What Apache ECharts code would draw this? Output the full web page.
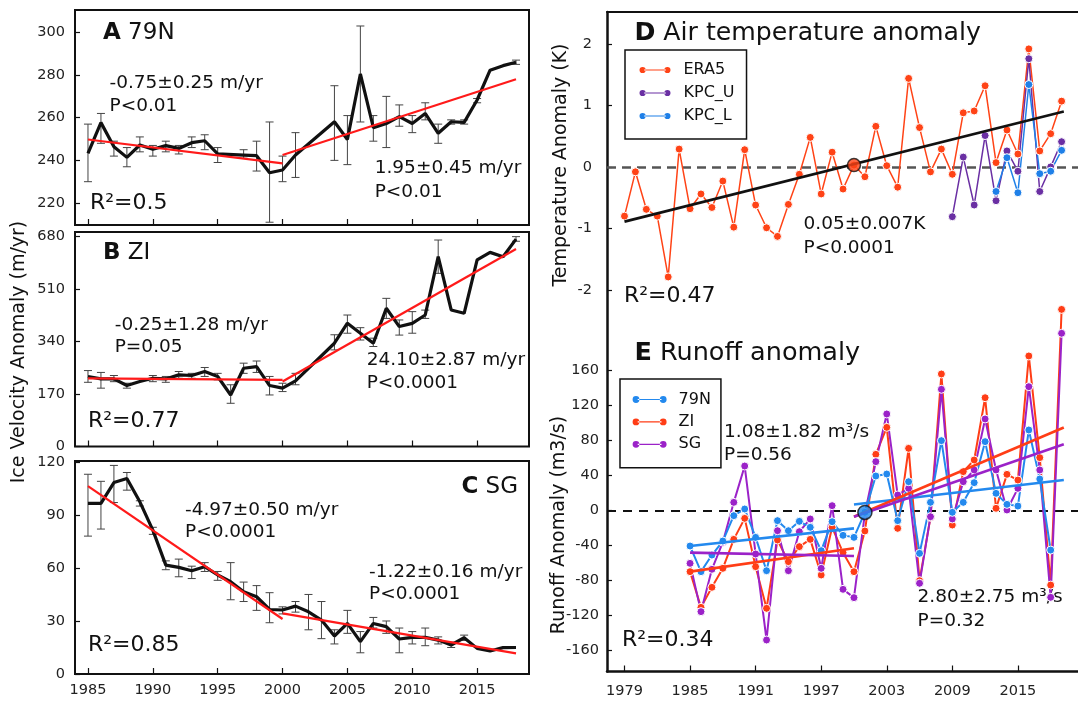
<!DOCTYPE html>
<html>
<head>
<meta charset="utf-8">
<script src="https://cdn.jsdelivr.net/npm/echarts@6/dist/echarts.min.js"></script>
<style>
  html, body { margin: 0; background: #fff; }
  #chart { width: 1078px; height: 705px; }
</style>
</head>
<body>
<div id="chart"></div>
<script>
// ---- ice velocity anomaly (m/yr), panels A-C; null = no value that year
const velYears = [1985, 1986, 1987, 1988, 1989, 1990, 1991, 1992, 1993, 1994, 1995, 1996, 1997, 1998, 1999, 2000, 2001,
  2002, 2003, 2004, 2005, 2006, 2007, 2008, 2009, 2010, 2011, 2012, 2013, 2014, 2015, 2016, 2017, 2018];

const vel79N = [243.3, 257.7, 246.4, 241.4, 247.2, 245.2, 246.9, 245.6, 248.3, 249.2, 243, null, 242.5, 242.2, 234.2, 235.5, 242.5,
  null, null, 258.1, 249.8, 280.5, 255.3, 257.3, 260.5, 257.3, 262, 252.7, 258.1, 257.8, 268.3, 282.3, 284.4, 286];
const vel79NLow = [230, 248, 242, 237, 244, 242, 244, 243, 246, 245, 239, null, 241, 235, 211, 230, 232,
  null, null, 240, 238, 258, 249, 246, 256, 253, 259, 248, 257, 257, 267, null, null, 285];
const vel79NHigh = [257, 262, 249, 246, 251, 247, 249, 247, 251, 252, 246, null, 245, 249, 258, 242, 253,
  null, null, 275, 261, 303, 261, 270, 266, 261, 267, 257, 259, 259, 269, null, null, 287];

const velZI = [226.7, 219, 219, 197.5, 210.5, 221, 219, 232, 230, 243, 226.7, 167, 253.6, 259, 197.5, 189, 212.6,
  null, null, 334.6, 399.4, 367, 334.6, 448, 388.6, 399, 426, 615, 442.5, 431.7, 604.4, 629, 615, 672];
const velZILow = [208, 189, 210, 189, null, 210, 208, 221, 221, 227, 216, 140, 237, 240, 167, 178, 200,
  null, null, 313, 367, 345, 324, 415, 361, 367, 415, 561, null, null, null, null, null, 665];
const velZIHigh = [246, 240, 230, 205, null, 230, 227, 243, 237, 256, 237, 200, 270, 277, 227, 205, 237,
  null, null, 362, 426, 385, 351, 480, 410, 437, 442, 669, null, null, null, null, null, 680];

const velSG = [96.5, 96.5, 108.3, 110.6, 97.4, 81.4, 61.6, 60.3, 58.4, 60.7, 56, 52.2, 46.5, 43.7, 36.5, 36.2, 38.4,
  35.2, 30.5, 21.5, 28.6, 18.3, 28.6, 26.8, 19.8, 20.7, 20.7, 19.2, 16.4, 20.5, 14.5, 13, 14.9, 15];
const velSGLow = [78, 82, 97, 104, 95, 79, 59, 55, 54, 58, 53, 42, 41, 36, 29, 34, 35,
  25, 20, 17, 23, 12, 26, 23, 12, 17, 16, 17, 15, 19, null, null, null, null];
const velSGHigh = [113, 109, 118, 114, 98, 83, 64, 65, 61, 63, 58, 63, 52, 50, 46, 38, 41,
  45, 41, 25, 36, 24, 32, 30, 26, 24, 26, 21, 18, 22, null, null, null, null];

// piecewise linear fits (red lines)
const fit79N = [[[1985, 249.8], [2000, 238.6]], [[2000, 242.5], [2018, 278]]];
const fitZI = [[[1985, 221], [2000, 216]], [[2000, 210.5], [2018, 640]]];
const fitSG = [[[1985, 106.3], [2000, 31.1]], [[2000, 34.3], [2018, 11.7]]];

// ---- air temperature anomaly (K), panel D
const tempYears = [1979, 1980, 1981, 1982, 1983, 1984, 1985, 1986, 1987, 1988, 1989, 1990, 1991, 1992, 1993, 1994,
  1995, 1996, 1997, 1998, 1999, 2000, 2001, 2002, 2003, 2004, 2005, 2006, 2007, 2008, 2009, 2010, 2011, 2012,
  2013, 2014, 2015, 2016, 2017, 2018, 2019];
const era5 = [-0.80, -0.08, -0.69, -0.80, -1.79, 0.29, -0.68, -0.44, -0.66, -0.23, -0.98, 0.28, -0.62, -0.99, -1.13, -0.61,
  -0.12, 0.48, -0.44, 0.24, -0.36, 0.03, -0.16, 0.66, 0.02, -0.33, 1.44, 0.64, -0.08, 0.29, -0.12, 0.88, 0.91, 1.32,
  0.07, 0.60, 0.21, 1.92, 0.26, 0.54, 1.07];
const kpcUYears = [2009, 2010, 2011, 2012, 2013, 2014, 2015, 2016, 2017, 2018, 2019];
const kpcU = [-0.81, 0.16, -0.62, 0.51, -0.55, 0.26, -0.07, 1.76, -0.40, 0.0, 0.41];
const kpcLYears = [2013, 2014, 2015, 2016, 2017, 2018, 2019];
const kpcL = [-0.40, 0.15, -0.42, 1.34, -0.11, -0.07, 0.27];
const tempTrend = [[1979, -0.89], [2019.2, 0.90]];
const tempBreak = [2000, 0.03];

// ---- runoff anomaly (m3/s), panel E
const runYears = [1985, 1986, 1987, 1988, 1989, 1990, 1991, 1992, 1993, 1994, 1995, 1996, 1997, 1998, 1999, 2000,
  2001, 2002, 2003, 2004, 2005, 2006, 2007, 2008, 2009, 2010, 2011, 2012, 2013, 2014, 2015, 2016, 2017, 2018, 2019];
const run79N = [-40.4, -69.7, -50.7, -34.7, -5.7, 1.9, -30.5, -68.6, -11.4, -22.9, -12.2, -19, -45.7, -12.6, -28.2, -30.5,
  -1.9, 39.6, 41.9, -11.4, 33.1, -48.8, 9.5, 80, -1.9, 9.5, 32, 78.9, 19.8, 7.2, 5.3, 92.2, 36.2, -45, null];
const runZI = [-69.7, -110.5, -87.6, -65.9, -32.8, -8.8, -64, -111.6, -33.5, -58.3, -41.1, -32.8, -73.5, -19, -48, -69.7,
  -23.2, 64.4, 95.2, -20.2, 71.2, -80, -7.6, 156.2, -16.4, 44.6, 57.9, 129.1, 2.7, 41.5, 35, 176.8, 60.6, -85, 230];
const runSG = [-60.2, -115.4, -67, -36, 9.5, 51, -49.5, -147.8, -22.9, -68.6, -24, -9.5, -65.9, 5.7, -89.9, -99.4,
  -3, 56, 110.5, 17.9, 25.5, -83, -6.9, 138.7, -9.5, 33.1, 46.5, 104.8, 46.5, 0.8, 25.5, 141.7, 46.5, -99, 202.7];
const run79NFit = [[[1985, -40.4], [2000, -20.2]], [[2000, 7], [2019.2, 35]]];
const runZIFit = [[[1985, -69.7], [2000, -43]], [[2000, -7], [2019.2, 95]]];
const runSGFit = [[[1985, -48], [2000, -51.8]], [[2000, -7], [2019.2, 76]]];
const runBreak = [2001, -2];

// ---- tick labels
const leftYearTicks = [1985, 1990, 1995, 2000, 2005, 2010, 2015];
const rightYearTicks = [1979, 1985, 1991, 1997, 2003, 2009, 2015];
const ticksA = [220, 240, 260, 280, 300];
const ticksB = [0, 170, 340, 510, 680];
const ticksC = [0, 30, 60, 90, 120];
const ticksD = [-2, -1, 0, 1, 2];
const ticksE = [-160, -120, -80, -40, 0, 40, 80, 120, 160];

const FONT = 'DejaVu Sans';
const C_ERA = '#ff4316', C_KU = '#6a2fa3', C_KL = '#1f80e8';
const C_79 = '#2389ee', C_ZI = '#ff3d16', C_SG = '#9b22c8';
const plain = v => String(v);

function pairs(years, vals) {
  return years.map((y, i) => [y, vals[i]]);
}
function errData(low, high) {
  return velYears.map((y, i) => (low[i] == null ? null : [y, low[i], high[i]])).filter(d => d);
}

function leftX(i, showLabel) {
  return {
    type: 'value', gridIndex: i, min: 1984, max: 2019,
    axisLine: { show: false, onZero: false },
    axisTick: { show: true, inside: true, length: 6, customValues: leftYearTicks, lineStyle: { color: '#111', width: 1.2 } },
    axisLabel: { show: showLabel, customValues: leftYearTicks, formatter: plain, fontFamily: FONT, fontSize: 14.5, color: '#222', margin: 9 },
    splitLine: { show: false }
  };
}
function leftY(i, min, max, ticks) {
  return {
    type: 'value', gridIndex: i, min: min, max: max,
    axisLine: { show: false, onZero: false },
    axisTick: { show: true, inside: true, length: 5, customValues: ticks, lineStyle: { color: '#111', width: 1.2 } },
    axisLabel: { customValues: ticks, formatter: plain, fontFamily: FONT, fontSize: 14.5, color: '#222', margin: 10 },
    splitLine: { show: false }
  };
}

function errSeries(i, low, high) {
  return {
    type: 'custom', xAxisIndex: i, yAxisIndex: i,
    data: errData(low, high),
    encode: { x: 0, y: [1, 2] },
    renderItem: function (params, api) {
      const top = api.coord([api.value(0), api.value(2)]);
      const bot = api.coord([api.value(0), api.value(1)]);
      const w = 4;
      const st = { stroke: '#444', lineWidth: 1 };
      return {
        type: 'group',
        children: [
          { type: 'line', shape: { x1: top[0], y1: top[1], x2: bot[0], y2: bot[1] }, style: st },
          { type: 'line', shape: { x1: top[0] - w, y1: top[1], x2: top[0] + w, y2: top[1] }, style: st },
          { type: 'line', shape: { x1: bot[0] - w, y1: bot[1], x2: bot[0] + w, y2: bot[1] }, style: st }
        ]
      };
    }
  };
}
function velLine(i, vals) {
  return {
    type: 'line', xAxisIndex: i, yAxisIndex: i, data: pairs(velYears, vals),
    connectNulls: true, showSymbol: false, lineStyle: { color: '#111', width: 3.2 }, z: 3
  };
}
function fitLines(i, fit, color, width) {
  return fit.map(seg => ({
    type: 'line', xAxisIndex: i, yAxisIndex: i, data: seg, showSymbol: false,
    lineStyle: { color: color, width: width }, z: 4
  }));
}
function dotLine(name, i, years, vals, color, width) {
  return {
    name: name, type: 'line', xAxisIndex: i, yAxisIndex: i, data: pairs(years, vals),
    symbol: 'circle', symbolSize: 8, showSymbol: true,
    itemStyle: { color: color, borderColor: '#fff', borderWidth: 1 },
    lineStyle: { color: color, width: width }
  };
}

function txt(text, x, y, size, extra) {
  return Object.assign({
    type: 'text', x: x, y: y, silent: true,
    style: {
      text: text, fontFamily: FONT, fontSize: size, fill: '#111',
      textVerticalAlign: 'middle', verticalAlign: 'middle', textAlign: 'left', align: 'left'
    }
  }, extra || {});
}
function title(letter, rest, x, y, size, align) {
  return {
    type: 'text', x: x, y: y, silent: true,
    style: {
      text: '{b|' + letter + '}{n| ' + rest + '}',
      fill: '#111', textVerticalAlign: 'middle', verticalAlign: 'middle',
      textAlign: align || 'left', align: align || 'left',
      rich: {
        b: { fontFamily: FONT, fontSize: size, fontWeight: 'bold', fill: '#111' },
        n: { fontFamily: FONT, fontSize: size, fill: '#111' }
      }
    }
  };
}
function vtxt(text, x, y, size) {
  return {
    type: 'text', x: x, y: y, rotation: Math.PI / 2, silent: true,
    style: {
      text: text, fontFamily: FONT, fontSize: size, fill: '#111',
      textAlign: 'center', align: 'center', textVerticalAlign: 'middle', verticalAlign: 'middle'
    }
  };
}

const legendIcon = 'path://M0,4a4,4 0 1,0 8,0a4,4 0 1,0 -8,0zM32,4a4,4 0 1,0 8,0a4,4 0 1,0 -8,0zM6,3.3h28v1.4h-28z';

const option = {
  animation: false,
  backgroundColor: '#fff',
  grid: [
    { left: 75, top: 10, width: 454, height: 215, show: true, borderColor: '#111', borderWidth: 2 },
    { left: 75, top: 232, width: 454, height: 214.5, show: true, borderColor: '#111', borderWidth: 2 },
    { left: 75, top: 461, width: 454, height: 213, show: true, borderColor: '#111', borderWidth: 2 },
    { left: 607, top: 12, width: 486, height: 659.5 },
    { left: 607, top: 12, width: 486, height: 659.5 }
  ],
  xAxis: [
    leftX(0, false),
    leftX(1, false),
    leftX(2, true),
    {
      type: 'value', gridIndex: 3, min: 1977.4, max: 2020.5, position: 'top',
      axisLine: { show: true, onZero: false, lineStyle: { color: '#111', width: 2 } },
      axisTick: { show: false }, axisLabel: { show: false }, splitLine: { show: false }
    },
    {
      type: 'value', gridIndex: 4, min: 1977.4, max: 2020.5, position: 'bottom',
      axisLine: { show: true, onZero: false, lineStyle: { color: '#111', width: 2.5 } },
      axisTick: { show: true, inside: true, length: 6, customValues: rightYearTicks, lineStyle: { color: '#111', width: 1.2 } },
      axisLabel: { customValues: rightYearTicks, formatter: plain, fontFamily: FONT, fontSize: 14.5, color: '#222', margin: 12 },
      splitLine: { show: false }
    }
  ],
  yAxis: [
    leftY(0, 209.7, 310.5, ticksA),
    leftY(1, 0, 695, ticksB),
    leftY(2, 0, 120.5, ticksC),
    {
      type: 'value', gridIndex: 3, min: -8.208, max: 2.52,
      axisLine: { show: true, onZero: false, lineStyle: { color: '#111', width: 2.5 } },
      axisTick: { show: true, inside: true, length: 5, customValues: ticksD, lineStyle: { color: '#111', width: 1.2 } },
      axisLabel: { customValues: ticksD, formatter: plain, fontFamily: FONT, fontSize: 14.5, color: '#222', margin: 15 },
      splitLine: { show: false }
    },
    {
      type: 'value', gridIndex: 4, min: -183.8, max: 569.9,
      axisLine: { show: false, onZero: false },
      axisTick: { show: true, inside: true, length: 5, customValues: ticksE, lineStyle: { color: '#111', width: 1.2 } },
      axisLabel: { customValues: ticksE, formatter: plain, fontFamily: FONT, fontSize: 14.5, color: '#222', margin: 8 },
      splitLine: { show: false }
    }
  ],
  legend: [
    {
      data: ['ERA5', 'KPC_U', 'KPC_L'], orient: 'vertical', left: 625, top: 50,
      padding: [11.5, 12, 14.5, 14.5], itemGap: 6, itemWidth: 31, itemHeight: 8,
      icon: legendIcon, selectedMode: false,
      borderColor: '#111', borderWidth: 1.5, borderRadius: 0,
      itemStyle: { borderWidth: 0 },
      textStyle: { fontFamily: FONT, fontSize: 16, color: '#111', lineHeight: 17, padding: [0, 0, 0, 8] }
    },
    {
      data: ['79N', 'ZI', 'SG'], orient: 'vertical', left: 620, top: 379,
      padding: [12, 10, 15, 12.6], itemGap: 5.4, itemWidth: 34, itemHeight: 8,
      icon: legendIcon, selectedMode: false,
      borderColor: '#111', borderWidth: 1.5, borderRadius: 0,
      itemStyle: { borderWidth: 0 },
      textStyle: { fontFamily: FONT, fontSize: 16, color: '#111', lineHeight: 17, padding: [0, 0, 0, 7] }
    }
  ],
  series: [
    // panel A
    errSeries(0, vel79NLow, vel79NHigh),
    velLine(0, vel79N),
    ...fitLines(0, fit79N, '#ff1a1a', 2.2),
    // panel B
    errSeries(1, velZILow, velZIHigh),
    velLine(1, velZI),
    ...fitLines(1, fitZI, '#ff1a1a', 2.2),
    // panel C
    errSeries(2, velSGLow, velSGHigh),
    velLine(2, velSG),
    ...fitLines(2, fitSG, '#ff1a1a', 2.2),
    // panel D
    dotLine('ERA5', 3, tempYears, era5, C_ERA, 1.5),
    dotLine('KPC_U', 3, kpcUYears, kpcU, C_KU, 1.5),
    dotLine('KPC_L', 3, kpcLYears, kpcL, C_KL, 1.5),
    {
      type: 'line', xAxisIndex: 3, yAxisIndex: 3, data: tempTrend, showSymbol: false,
      lineStyle: { color: '#111', width: 2.6 }, z: 4,
      markLine: {
        silent: true, symbol: 'none', label: { show: false }, z: 1,
        lineStyle: { color: '#555', width: 2.5, type: [9, 6] },
        data: [{ yAxis: 0 }]
      }
    },
    {
      type: 'scatter', xAxisIndex: 3, yAxisIndex: 3, data: [tempBreak], symbolSize: 13, z: 5,
      itemStyle: { color: C_ERA, borderColor: '#111', borderWidth: 1.5 }
    },
    // panel E
    dotLine('ZI', 4, runYears, runZI, C_ZI, 2),
    dotLine('SG', 4, runYears, runSG, C_SG, 2),
    dotLine('79N', 4, runYears, run79N, C_79, 2),
    ...fitLines(4, run79NFit, C_79, 2.6),
    ...fitLines(4, runZIFit, C_ZI, 2.6),
    ...fitLines(4, runSGFit, C_SG, 2.6),
    {
      type: 'scatter', xAxisIndex: 4, yAxisIndex: 4, data: [runBreak], symbolSize: 14, z: 5,
      itemStyle: { color: C_79, borderColor: '#111', borderWidth: 1.5 },
      markLine: {
        silent: true, symbol: 'none', label: { show: false }, z: 1,
        lineStyle: { color: '#111', width: 2, type: [9, 7] },
        data: [{ yAxis: 0 }]
      }
    }
  ],
  graphic: [
    // panel A
    title('A', '79N', 103, 33.3, 23),
    txt('-0.75±0.25 m/yr', 109.5, 83.3, 18.5),
    txt('P<0.01', 109.5, 106, 18.5),
    txt('1.95±0.45 m/yr', 374.7, 168.3, 18.5),
    txt('P<0.01', 374.7, 191.7, 18.5),
    txt('R²=0.5', 90, 203.3, 22),
    // panel B
    title('B', 'ZI', 103, 253.3, 23),
    txt('-0.25±1.28 m/yr', 114.7, 325, 18.5),
    txt('P=0.05', 114.7, 346.7, 18.5),
    txt('24.10±2.87 m/yr', 366.7, 360, 18.5),
    txt('P<0.0001', 366.7, 383.3, 18.5),
    txt('R²=0.77', 88, 421.7, 22),
    // panel C
    title('C', 'SG', 518, 486.7, 23, 'right'),
    txt('-4.97±0.50 m/yr', 185, 510, 18.5),
    txt('P<0.0001', 185, 531.7, 18.5),
    txt('-1.22±0.16 m/yr', 369, 571.7, 18.5),
    txt('P<0.0001', 369, 594, 18.5),
    txt('R²=0.85', 88, 645.7, 22),
    vtxt('Ice Velocity Anomaly (m/yr)', 19, 352, 19),
    // panel D
    title('D', 'Air temperature anomaly', 634.4, 33.3, 25.2),
    txt('0.05±0.007K', 803.5, 224, 18.5),
    txt('P<0.0001', 803.5, 248.3, 18.5),
    txt('R²=0.47', 624, 296.7, 22),
    vtxt('Temperature Anomaly (K)', 560.6, 165, 19),
    // panel E
    title('E', 'Runoff anomaly', 634.4, 353.3, 25.5),
    txt('1.08±1.82 m³/s', 724, 432.3, 18.5),
    txt('P=0.56', 724, 455, 18.5),
    txt('2.80±2.75 m³/s', 917.5, 597.3, 18.5),
    txt('P=0.32', 917.5, 620.7, 18.5),
    txt('R²=0.34', 622, 640.7, 22),
    vtxt('Runoff Anomaly (m3/s)', 559, 525, 19)
  ]
};

const chart = echarts.init(document.getElementById('chart'));
chart.setOption(option);
</script>
</body>
</html>
